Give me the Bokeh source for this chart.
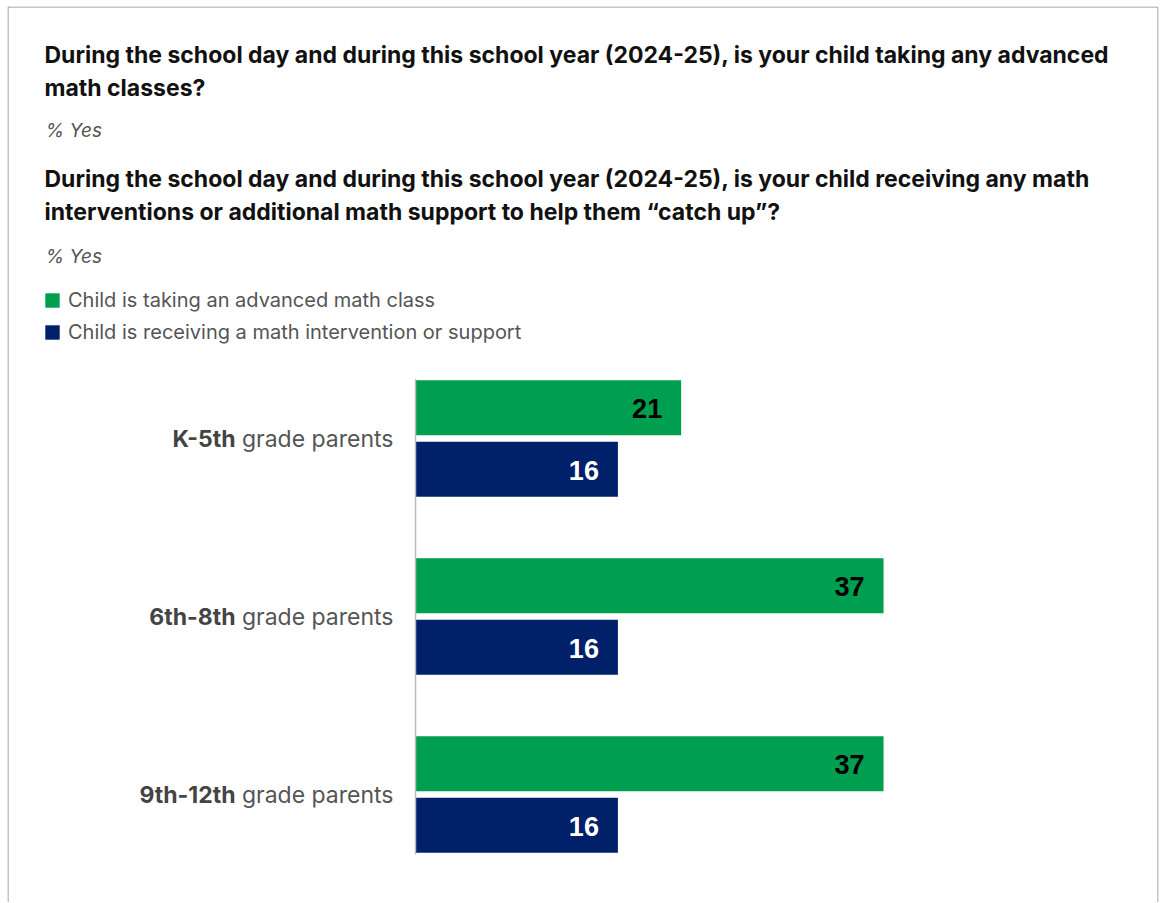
from bokeh.plotting import figure
from bokeh.models import ColumnDataSource, Range1d, Label, Legend, LegendItem, BoxAnnotation
from bokeh.transform import dodge
from bokeh.core.properties import value
from bokeh.embed import file_html
from bokeh.resources import INLINE

# ---- data ----
grades = ["K-5th", "6th-8th", "9th-12th"]
series = ["Child is taking an advanced math class",
          "Child is receiving a math intervention or support"]
advanced = [21, 37, 37]
intervention = [16, 16, 16]
title1 = ["During the school day and during this school year (2024-25), is your child taking any advanced",
          "math classes?"]
title2 = ["During the school day and during this school year (2024-25), is your child receiving any math",
          "interventions or additional math support to help them \u201ccatch up\u201d?"]
subtitle = "% Yes"
label_suffix = "grade parents"

GREEN = "#009E4F"
NAVY = "#00206A"
FONT = "Inter"

W, H = 1160, 902
ML, MR, MT, MB = 7, 2, 6, 0
FW, FH = W - ML - MR, H - MT - MB
PX_X = 12.65   # px per percentage point
PX_Y = 178.0   # px per grade group
ZERO_X = 408   # frame x of the value axis origin
FIRST_Y = 432  # frame y (from top) of first group centre

p = figure(width=W, height=H, min_border_left=ML, min_border_right=MR,
           min_border_top=MT, min_border_bottom=MB, title=None,
           x_range=Range1d(-ZERO_X / PX_X, (FW - ZERO_X) / PX_X),
           y_range=Range1d((FH - FIRST_Y) / PX_Y, -FIRST_Y / PX_Y),
           output_backend="svg", toolbar_location=None)
p.xaxis.visible = False
p.yaxis.visible = False
p.xgrid.visible = False
p.ygrid.visible = False
p.outline_line_color = None

# card border: open at the bottom (cut by the window)
p.add_layout(BoxAnnotation(left=0.5, right=FW - 0.5, top=FH - 0.5, bottom=-20,
                           left_units="screen", right_units="screen",
                           top_units="screen", bottom_units="screen",
                           fill_alpha=0, line_color="#8C8C8C", line_width=1, line_alpha=1))

idx = list(range(len(grades)))
src = ColumnDataSource(dict(g=idx, adv=advanced, intv=intervention,
                            adv_t=[str(v) for v in advanced],
                            int_t=[str(v) for v in intervention],
                            zero=[0] * len(grades), name=grades,
                            suffix=[label_suffix] * len(grades)))

OFF = 0.1728
BH = 0.309
r_adv = p.hbar(y=dodge("g", -OFF), left=0, right="adv", height=BH, source=src,
               fill_color=GREEN, line_color=None)
r_int = p.hbar(y=dodge("g", OFF), left=0, right="intv", height=BH, source=src,
               fill_color=NAVY, line_color=None)

# value axis baseline spanning the bars
base = ColumnDataSource(dict(x=[0], y0=[idx[0] - OFF - BH / 2 - 0.005],
                             y1=[idx[-1] + OFF + BH / 2 + 0.01]))
p.segment(x0="x", x1="x", y0="y0", y1="y1", source=base, line_color="#BBBBBB", line_width=1.5)

p.text(x="adv", y=dodge("g", -OFF), text="adv_t", source=src, text_align="right",
       text_baseline="middle", x_offset=-19, y_offset=1, text_font=value("Liberation Sans"),
       text_font_style="bold", text_font_size="27px", text_color="#000000")
p.text(x="intv", y=dodge("g", OFF), text="int_t", source=src, text_align="right",
       text_baseline="middle", x_offset=-19, y_offset=1, text_font=value("Liberation Sans"),
       text_font_style="bold", text_font_size="27px", text_color="#FFFFFF")

# category labels (bold part + regular part)
p.text(x="zero", y="g", text="suffix", source=src, text_align="right", text_baseline="middle",
       x_offset=-22, text_font=value(FONT), text_font_size="23px", text_color="#555555")
p.text(x="zero", y="g", text="name", source=src, text_align="right", text_baseline="middle",
       x_offset=-180, text_font=value(FONT), text_font_style="bold",
       text_font_size="23px", text_color="#444444")

# legend
legend = Legend(items=[LegendItem(label=series[0], renderers=[r_adv]),
                       LegendItem(label=series[1], renderers=[r_int])],
                location=(36, FH - 338), orientation="vertical",
                glyph_width=18, glyph_height=18, label_height=24, spacing=8,
                label_standoff=7, padding=0, margin=0,
                border_line_color=None, background_fill_alpha=0,
                label_text_font=FONT, label_text_font_size="20px", label_text_color="#555555")
p.add_layout(legend, "center")

# titles (screen units, measured from the frame's bottom-left)
def add_label(x, y_top, text, size, style, color):
    p.add_layout(Label(x=x, y=FH - y_top, x_units="screen", y_units="screen", text=text,
                       text_font=FONT, text_font_size=size, text_font_style=style,
                       text_color=color, text_baseline="alphabetic", text_align="left"))

add_label(37, 48, title1[0], "23px", "bold", "#111111")
add_label(37, 81, title1[1], "23px", "bold", "#111111")
add_label(38, 124, subtitle, "19px", "italic", "#555555")
add_label(37, 172, title2[0], "23px", "bold", "#111111")
add_label(37, 205, title2[1], "23px", "bold", "#111111")
add_label(38, 250, subtitle, "19px", "italic", "#555555")

open("out.html", "w").write(file_html(p, INLINE))
